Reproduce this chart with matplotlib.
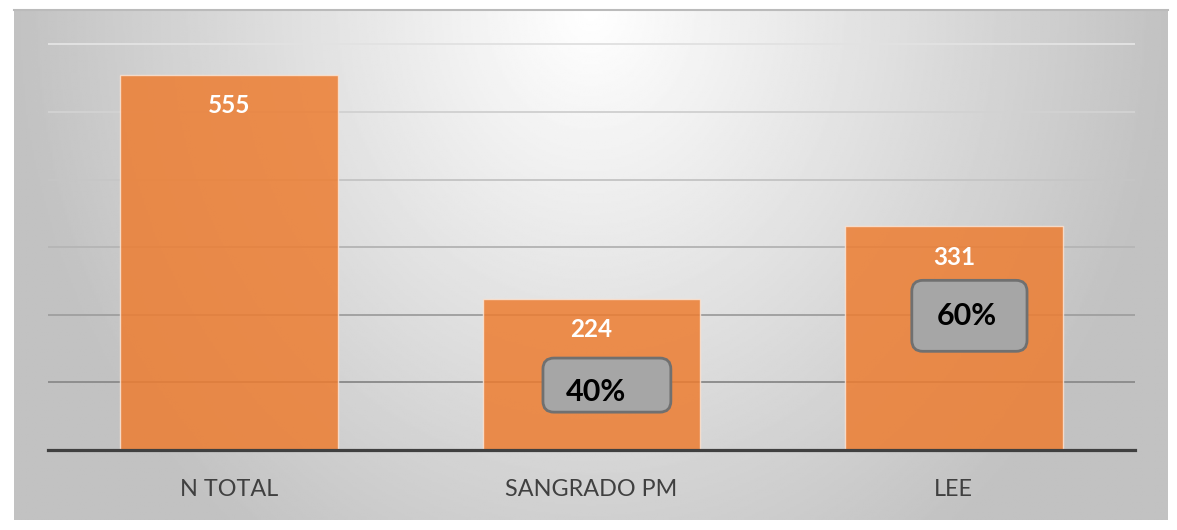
import numpy as np
import matplotlib
matplotlib.use("Agg")
import matplotlib.pyplot as plt
from matplotlib.patches import FancyBboxPatch

plt.rcParams['font.family'] = ['Lato', 'DejaVu Sans']

categories = ['N TOTAL', 'SANGRADO PM', 'LEE']
values = [555, 224, 331]
pct_labels = ['', '40%', '60%']

# cajas grises: (dx izq, ancho, y abajo, alto, dx texto, y texto) en unidades de datos
boxes = {1: (-0.134, 0.353, 56, 80, 0.012, 86),
         2: (-0.116, 0.318, 146, 105, 0.036, 198)}

# lineas de cuadricula, mas oscuras abajo
grid_levels = [100, 200, 300, 400, 500, 600]
grid_colors = ['#8e8e8e', '#a2a2a2', '#b6b6b6', '#c6c6c6', '#d2d2d2', '#e2e2e2']

W, H = 1177, 530
fig = plt.figure(figsize=(W / 100, H / 100), dpi=100)
fig.patch.set_facecolor('white')

# fondo con degradado (claro arriba al centro)
bg = fig.add_axes([14 / W, 10 / H, 1154 / W, 510 / H])
yy, xx = np.mgrid[0:1:300j, 0:1:600j]
r = np.sqrt(((xx - 0.5) / 0.5) ** 2 + (yy / 1.3) ** 2)
v = np.clip(1.0 - 0.24 * r, 0.76, 1)
bg.imshow(v, cmap='gray', vmin=0, vmax=1, aspect='auto', extent=(0, 1, 0, 1),
          origin='upper')
bg.set_xlim(0, 1)
bg.set_ylim(0, 1)
bg.set_xticks([])
bg.set_yticks([])
for s in bg.spines.values():
    s.set_visible(False)
bg.spines['top'].set_visible(True)
bg.spines['top'].set_color('#bbbbbb')
bg.spines['top'].set_linewidth(1.5)

ax = fig.add_axes([48 / W, 80 / H, 1087 / W, 432.6 / H])
ax.patch.set_alpha(0)
x = np.arange(len(categories))
ax.set_xlim(-0.5, 2.5)
ax.set_ylim(0, 640)

for lvl, c in zip(grid_levels, grid_colors):
    ax.axhline(lvl, color=c, linewidth=1.4, zorder=0)

bars = ax.bar(x, values, width=0.6, color='#ED7D31', alpha=0.85,
              edgecolor='#fbe3d3', linewidth=1, zorder=2)

for xi, val in zip(x, values):
    ax.annotate(str(val), (xi, val), xytext=(0, -31), textcoords='offset pixels',
                ha='center', va='center', color='white', fontsize=17.5,
                fontweight='bold', zorder=4)

# mutation_aspect para esquinas redondas con escalas distintas
px_x = 1087 / 3
px_y = 432.6 / 640
for i, lab in enumerate(pct_labels):
    if not lab:
        continue
    dx, bw, yb, bh, tx, ty = boxes[i]
    box = FancyBboxPatch((x[i] + dx, yb), bw, bh,
                         boxstyle='round,pad=0,rounding_size=%f' % (11 / px_x),
                         mutation_aspect=px_x / px_y,
                         facecolor='#a6a6a6', edgecolor='#707070', linewidth=2,
                         zorder=5)
    ax.add_patch(box)
    ax.text(x[i] + tx, ty, lab, ha='center', va='center', fontsize=22,
            fontweight='bold', color='black', zorder=6)

ax.set_xticks(x)
ax.set_xticklabels(categories, fontsize=16.8, color='#404040')
ax.set_yticks([])
ax.tick_params(axis='x', length=0, pad=21)
for s in ['top', 'right', 'left']:
    ax.spines[s].set_visible(False)
ax.spines['bottom'].set_color('#404040')
ax.spines['bottom'].set_linewidth(2.3)
ax.spines['bottom'].set_zorder(3)

fig.savefig('out.png', dpi=100)
